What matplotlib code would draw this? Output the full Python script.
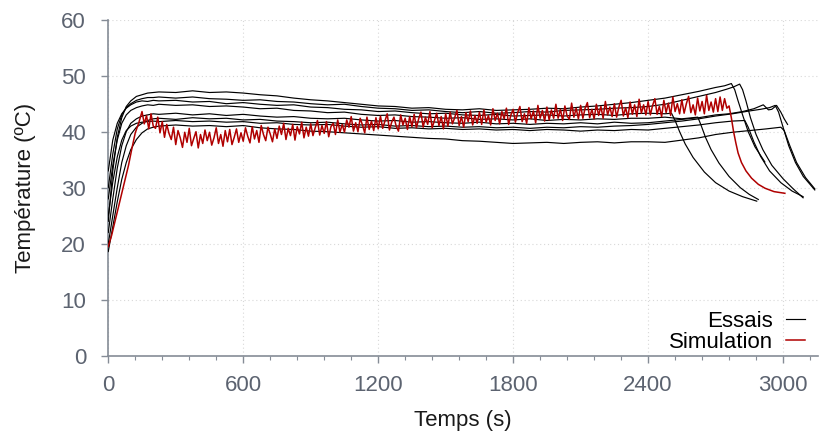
import numpy as np
import matplotlib
matplotlib.use("Agg")
import matplotlib.pyplot as plt
from matplotlib.ticker import MultipleLocator

plt.rcParams['font.family'] = ['Liberation Sans', 'DejaVu Sans']

# ---------------- data ----------------
# shared time grid for the rise + plateau of the "Essais" curves
t_head = [0, 20, 40, 60, 80, 100, 125, 150, 175, 200]
t_plateau = list(range(225, 2476, 75))   # 225 ... 2475
t_shared = t_head + t_plateau

c1_shared = [24, 33, 39, 42.5, 44.5, 45.5, 46.3, 46.6, 46.9, 47.0,
             47.1, 47.0, 47.3, 47.0, 47.1, 46.9, 46.6, 46.4, 46.0, 45.7, 45.5, 45.2, 44.9, 44.6, 44.5, 44.2,
             44.3, 44.0, 43.9, 44.1, 43.8, 43.9, 44.0, 44.2, 44.1, 44.4, 44.6, 44.9, 45.2, 45.6, 46.0]
c1_tail_t = [2550, 2625, 2700, 2740, 2770, 2785, 2800, 2820, 2845, 2875, 2919]
c1_tail_v = [46.6, 47.2, 47.9, 48.2, 48.6, 47.5, 45.5, 43.0, 40.0, 37.3, 34.6]

c2_shared = [30, 36, 40.5, 43, 44.3, 45.0, 45.6, 45.9, 46.1, 46.1,
             46.2, 46.0, 46.2, 45.9, 45.8, 45.6, 45.7, 45.4, 45.3, 45.0, 44.8, 44.9, 44.5, 44.2, 44.1, 43.8,
             43.9, 43.6, 43.4, 43.6, 43.3, 43.4, 43.6, 43.5, 43.8, 43.9, 44.0, 44.2, 44.3, 44.5, 44.9]
c2_tail_t = [2550, 2625, 2700, 2750, 2780, 2807, 2820, 2835, 2855, 2880, 2910, 2950, 3000, 3045, 3089]
c2_tail_v = [45.6, 46.3, 47.0, 47.6, 48.0, 48.5, 47.5, 45.5, 42.5, 39.5, 36.8, 34.0, 31.6, 29.8, 28.2]

c3_shared = [33, 38.5, 41.5, 43.2, 44.2, 44.8, 45.3, 45.5, 45.4, 45.6,
             45.5, 45.6, 45.3, 45.4, 45.0, 45.2, 44.9, 44.7, 44.8, 44.4, 44.3, 44.0, 43.9, 43.6, 43.7, 43.4,
             43.2, 43.3, 43.0, 42.9, 43.1, 42.8, 42.9, 43.0, 42.8, 43.0, 43.1, 42.9, 43.2, 43.3, 43.2]
c3_tail_t = [2504, 2520, 2540, 2565, 2600, 2650, 2700, 2760, 2820, 2883]
c3_tail_v = [43.3, 42.0, 40.0, 37.8, 35.4, 32.8, 30.9, 29.4, 28.4, 27.6]

c4_shared = [28, 34, 38.5, 41.5, 43.0, 43.8, 44.3, 44.6, 44.8, 44.7,
             44.9, 44.7, 44.8, 44.5, 44.6, 44.4, 44.1, 44.2, 43.8, 43.7, 43.4, 43.5, 43.1, 42.9, 43.0, 42.7,
             42.6, 42.4, 42.5, 42.2, 42.3, 42.1, 42.3, 42.0, 42.2, 42.1, 42.3, 42.2, 42.4, 42.4, 42.6]
c4_tail_t = [2550, 2621, 2635, 2655, 2680, 2715, 2760, 2810, 2850, 2890]
c4_tail_v = [42.3, 42.6, 41.2, 39.0, 36.8, 34.4, 32.0, 30.0, 28.8, 27.9]

c5_shared = [22, 28, 33.5, 37.5, 40.0, 41.5, 42.3, 42.8, 43.0, 43.2,
             43.1, 43.3, 43.0, 43.2, 42.9, 43.1, 42.8, 42.6, 42.7, 42.4, 42.3, 42.4, 42.1, 41.9, 42.0, 41.7,
             41.8, 41.6, 41.5, 41.7, 41.4, 41.5, 41.3, 41.5, 41.4, 41.6, 41.4, 41.7, 41.5, 41.6, 41.9]
c5_tail_t = [2550, 2625, 2700, 2760, 2820, 2870, 2912, 2935, 2950, 2971, 2990, 3005, 3020]
c5_tail_v = [42.2, 42.5, 43.0, 43.2, 43.6, 44.1, 44.8, 43.9, 44.0, 44.7, 43.5, 42.3, 41.3]

c6_shared = [20, 25, 30, 34.5, 37.5, 39.5, 40.8, 41.5, 42.0, 42.3,
             42.4, 42.2, 42.5, 42.3, 42.4, 42.1, 42.2, 41.9, 41.8, 41.6, 41.7, 41.4, 41.2, 41.3, 41.0, 41.1,
             40.9, 41.0, 40.8, 40.9, 40.7, 40.8, 40.6, 40.8, 40.7, 40.9, 40.8, 41.0, 41.1, 41.3, 41.6]
c6_tail_t = [2550, 2625, 2700, 2775, 2850, 2900, 2940, 2965, 2980, 3000, 3025, 3055, 3090, 3141]
c6_tail_v = [41.9, 42.3, 42.8, 43.2, 43.7, 44.0, 44.3, 44.7, 43.5, 40.8, 37.5, 34.5, 32.0, 29.6]

c7_shared = [25, 31, 35.5, 38.5, 40.2, 41.0, 41.5, 41.7, 41.8, 41.9,
             41.8, 42.0, 41.8, 41.9, 41.7, 41.8, 41.5, 41.6, 41.3, 41.2, 41.3, 41.0, 40.8, 40.9, 40.6, 40.7,
             40.5, 40.6, 40.4, 40.5, 40.3, 40.4, 40.2, 40.4, 40.3, 40.1, 40.3, 40.2, 40.4, 40.3, 40.6]
c7_tail_t = [2550, 2625, 2700, 2775, 2830, 2845, 2870, 2900, 2940, 2990, 3040, 3089]
c7_tail_v = [40.9, 41.2, 41.6, 41.9, 42.0, 40.8, 38.2, 35.6, 33.0, 30.9, 29.4, 28.4]

c8_shared = [18.6, 23, 27.5, 31.5, 34.5, 36.8, 38.6, 39.8, 40.5, 40.8,
             41.0, 41.2, 41.0, 41.1, 40.9, 41.1, 40.7, 40.5, 40.4, 40.1, 40.0, 39.8, 39.6, 39.4, 39.2, 39.0,
             38.8, 38.7, 38.4, 38.3, 38.1, 37.9, 38.0, 38.1, 37.9, 38.1, 38.2, 38.0, 38.2, 38.2, 38.1]
c8_tail_t = [2550, 2625, 2700, 2775, 2850, 2925, 2990, 3005, 3030, 3060, 3100, 3141]
c8_tail_v = [38.5, 38.9, 39.5, 39.9, 40.2, 40.5, 40.8, 40.2, 37.5, 34.5, 31.8, 29.8]

essais = [
    (c1_shared, c1_tail_t, c1_tail_v),
    (c2_shared, c2_tail_t, c2_tail_v),
    (c3_shared, c3_tail_t, c3_tail_v),
    (c4_shared, c4_tail_t, c4_tail_v),
    (c5_shared, c5_tail_t, c5_tail_v),
    (c6_shared, c6_tail_t, c6_tail_v),
    (c7_shared, c7_tail_t, c7_tail_v),
    (c8_shared, c8_tail_t, c8_tail_v),
]

# Simulation (noisy red curve)
sim_head_t = [0, 15, 30, 45, 60, 75, 90, 105, 120, 135]
sim_head_v = [19.5, 21.5, 24.0, 26.5, 29.0, 31.5, 34.0, 37.0, 39.8, 41.5]
sim_mid_t = list(range(150, 2751, 10))
sim_mid_v = [
    43.6, 41.4, 42.9, 40.5, 43.2, 41.0, 40.6, 42.6, 39.8, 41.8, 39.0, 41.3, 39.7, 38.6, 40.8,
    37.7, 40.2, 38.9, 37.2, 39.9, 38.1, 40.6, 37.5, 38.8, 40.0, 37.1, 39.5, 37.9, 40.3, 38.4,
    39.9, 37.6, 38.9, 40.7, 37.9, 39.5, 37.4, 40.2, 38.2, 40.4, 37.7, 39.0, 40.5, 38.1, 39.8,
    38.3, 40.7, 39.2, 38.0, 40.9, 38.7, 40.2, 38.1, 41.1, 39.5, 38.4, 40.8, 39.6, 38.2, 40.5,
    38.8, 41.0, 39.5, 41.5, 38.6, 40.6, 39.3, 41.3, 38.5, 40.9, 39.6, 41.7, 38.9, 40.8, 39.2,
    41.4, 39.3, 40.7, 42.0, 39.4, 41.1, 39.7, 41.8, 39.1, 40.9, 41.5, 39.5, 42.1, 39.9, 41.3,
    39.9, 42.1, 40.8, 42.7, 40.1, 41.6, 40.0, 42.4, 41.2, 39.8, 42.6, 40.4, 41.9, 40.2, 42.5,
    40.5, 42.8, 40.6, 41.9, 43.2, 40.3, 41.7, 42.6, 41.0, 40.1, 43.0, 41.2, 42.4, 40.4, 42.7,
    40.9, 43.1, 40.7, 42.3, 43.5, 40.8, 42.6, 41.3, 43.6, 40.7, 42.0, 43.3, 41.1, 42.7, 40.5,
    43.2, 41.0, 43.5, 41.4, 42.5, 43.8, 41.1, 42.7, 40.8, 43.4, 41.8, 43.7, 41.2, 42.9, 41.5,
    43.5, 41.3, 43.9, 41.7, 42.9, 41.2, 44.1, 42.0, 43.3, 41.4, 43.6, 42.3, 44.2, 41.3, 43.0,
    44.0, 41.7, 43.4, 44.5, 41.8, 43.2, 41.5, 44.3, 42.3, 43.7, 41.6, 44.7, 42.4, 43.8, 41.9,
    44.4, 42.1, 43.9, 42.4, 44.9, 42.4, 44.0, 42.0, 44.6, 42.8, 42.2, 45.1, 42.6, 44.2, 42.3,
    44.7, 42.4, 44.2, 45.2, 42.5, 44.0, 42.3, 44.9, 42.9, 44.5, 42.4, 45.4, 43.0, 44.4, 42.7,
    45.0, 42.6, 44.4, 45.6, 42.8, 44.3, 42.5, 45.3, 43.1, 44.8, 42.7, 45.8, 43.3, 44.8, 43.0,
    45.4, 43.0, 44.7, 45.9, 43.1, 44.5, 42.7, 45.6, 43.4, 45.1, 42.9, 46.2, 43.6, 45.0, 43.2,
    45.7, 43.3, 45.0, 46.3, 43.4, 44.8, 43.0, 46.0, 43.7, 45.4, 43.2, 46.5, 43.8, 45.3, 43.5,
    45.9, 43.6, 46.2, 43.8, 45.9, 44.2,
]
sim_tail_t = [2760, 2770, 2780, 2790, 2800, 2815, 2835, 2860, 2890, 2920, 2960, 3008]
sim_tail_v = [44.6, 42.5, 40.0, 38.0, 36.2, 34.5, 33.0, 31.7, 30.6, 29.9, 29.3, 29.0]

x_ticks = [0, 600, 1200, 1800, 2400, 3000]
y_ticks = [0, 10, 20, 30, 40, 50, 60]

# ---------------- figure ----------------
fig = plt.figure(figsize=(8.19, 4.32), dpi=100)
ax = fig.add_axes([0.1322, 0.1766, 0.8665, 0.7778])

tick_col = '#5c6370'
spine_col = '#858c96'
red = '#b00000'

for shared, tt, tv in essais:
    ax.plot(t_shared + tt, shared + tv, color='black', lw=0.85, zorder=3)

ax.plot(sim_head_t + sim_mid_t + sim_tail_t, sim_head_v + sim_mid_v + sim_tail_v,
        color=red, lw=1.1, zorder=4)

# legend handles
ax.plot([], [], color='black', lw=0.85, label='Essais')
ax.plot([], [], color=red, lw=1.1, label='Simulation')
h, l = ax.get_legend_handles_labels()
leg = ax.legend(h[-2:], l[-2:], loc='lower right', bbox_to_anchor=(0.982, 0.008),
                frameon=False, markerfirst=False, fontsize=16, handlelength=0.85,
                handletextpad=0.6, labelspacing=0.02, borderaxespad=0, borderpad=0)
for txt in leg.get_texts():
    txt.set_color('black')

ax.set_xlim(0, 3155)
ax.set_ylim(0, 60)
ax.set_xticks(x_ticks)
ax.set_yticks(y_ticks)
ax.xaxis.set_minor_locator(MultipleLocator(120))

for s in ['top', 'right']:
    ax.spines[s].set_visible(False)
for s in ['left', 'bottom']:
    ax.spines[s].set_color(spine_col)
    ax.spines[s].set_linewidth(1.2)

ax.tick_params(axis='both', which='major', colors=spine_col, labelcolor=tick_col,
               labelsize=16, length=5, width=1.0, direction='out')
ax.tick_params(axis='x', which='major', pad=9)
ax.tick_params(axis='y', which='major', pad=11)
ax.tick_params(axis='x', which='minor', colors=spine_col, length=3, width=0.8)

ax.grid(True, which='major', linestyle=(0, (1, 2.5)), color='#d8d8d8', linewidth=0.8, zorder=0)
ax.set_axisbelow(True)

ax.set_xlabel('Temps (s)', fontsize=16, color='#1a1a1a', labelpad=10)
ax.set_ylabel('Température (ºC)', fontsize=16, color='#1a1a1a', labelpad=18)

fig.savefig('out.png', dpi=100)
